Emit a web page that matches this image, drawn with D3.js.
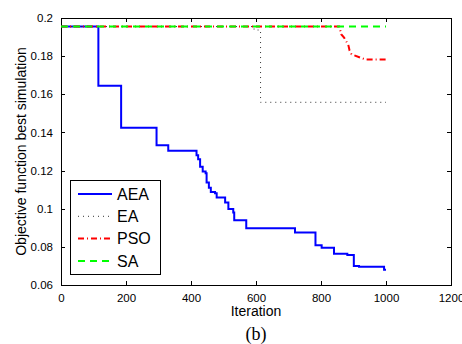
<!DOCTYPE html>
<html>
<head>
<meta charset="utf-8">
<script src="https://cdn.jsdelivr.net/npm/d3@7"></script>
<style>
  html, body { margin: 0; padding: 0; background: #fff; }
  svg { display: block; font-family: "Liberation Sans", Arial, sans-serif; }
</style>
</head>
<body>
<div id="plot"></div>
<script>
// --- data (iteration, objective value) ---
const aeaIter = [0, 115, 185, 294, 330, 417, 422, 428, 436, 445, 448, 455, 461, 474, 479, 505, 515, 530, 533, 570, 720, 783, 802, 840, 881, 901, 917, 994, 1000];
const aeaVal  = [0.1955, 0.1645, 0.1425, 0.1333, 0.1304, 0.128, 0.126, 0.122, 0.1195, 0.1186, 0.1137, 0.111, 0.1088, 0.1081, 0.1059, 0.1033, 0.0998, 0.098, 0.094, 0.0898, 0.0875, 0.0809, 0.0795, 0.0764, 0.0757, 0.0700, 0.0696, 0.068, 0.068];

const eaIter = [0, 594, 614, 1000];
const eaVal  = [0.1955, 0.1937, 0.1558, 0.1558];

const psoIter = [0, 856, 858, 862, 871, 884, 888, 894, 920, 938, 1000];
const psoVal  = [0.1955, 0.1955, 0.1946, 0.1915, 0.1897, 0.1859, 0.1829, 0.181, 0.1793, 0.1782, 0.1782];

const saIter = [0, 1000];
const saVal  = [0.1955, 0.1955];

const xTicks = [0, 200, 400, 600, 800, 1000, 1200];
const yTicks = [0.06, 0.08, 0.1, 0.12, 0.14, 0.16, 0.18, 0.2];
const seriesNames = ["AEA", "EA", "PSO", "SA"];

// --- layout ---
const width = 462, height = 344;
const plot = { left: 61, right: 451, top: 18, bottom: 285 };

const svg = d3.select("#plot").append("svg").attr("width", width).attr("height", height);

const x = d3.scaleLinear().domain([0, 1200]).range([plot.left, plot.right]);
const y = d3.scaleLinear().domain([0.06, 0.2]).range([plot.bottom, plot.top]);

// line styles (matlab-ish)
const styles = {
  AEA: { color: "#0000ff", width: 2, dash: null, curve: d3.curveStepAfter },
  EA:  { color: "#333333", width: 1, dash: "1,4", curve: d3.curveStepAfter },
  PSO: { color: "#ff0000", width: 2, dash: "6,3,1,3", curve: d3.curveLinear },
  SA:  { color: "#00ff00", width: 2, dash: "7,5", curve: d3.curveLinear }
};
const seriesData = {
  AEA: d3.zip(aeaIter, aeaVal),
  EA:  d3.zip(eaIter, eaVal),
  PSO: d3.zip(psoIter, psoVal),
  SA:  d3.zip(saIter, saVal)
};

// plot box
svg.append("rect")
  .attr("x", plot.left).attr("y", plot.top)
  .attr("width", plot.right - plot.left).attr("height", plot.bottom - plot.top)
  .attr("fill", "none").attr("stroke", "#000").attr("stroke-width", 1)
  .attr("shape-rendering", "crispEdges");

// series
for (const name of seriesNames) {
  const st = styles[name];
  const line = d3.line().x(d => x(d[0])).y(d => y(d[1])).curve(st.curve);
  svg.append("path")
    .datum(seriesData[name])
    .attr("d", line)
    .attr("fill", "none")
    .attr("stroke", st.color)
    .attr("stroke-width", st.width)
    .attr("stroke-dasharray", st.dash);
}

// axes: ticks inward on all four sides
const tickLen = 4;
const xBottom = d3.axisBottom(x).tickValues(xTicks).tickSizeInner(-tickLen).tickSizeOuter(0).tickPadding(9).tickFormat(d3.format("d"));
const xTop = d3.axisTop(x).tickValues(xTicks).tickSizeInner(-tickLen).tickSizeOuter(0).tickFormat("");
const yLeft = d3.axisLeft(y).tickValues(yTicks).tickSizeInner(-tickLen).tickSizeOuter(0).tickPadding(8).tickFormat(d => d3.format("")(+d.toFixed(2)));
const yRight = d3.axisRight(y).tickValues(yTicks).tickSizeInner(-tickLen).tickSizeOuter(0).tickFormat("");

function styleAxis(g) {
  g.select(".domain").remove();
  g.selectAll(".tick line").attr("stroke", "#000").attr("shape-rendering", "crispEdges");
  g.selectAll(".tick text").attr("fill", "#000").attr("font-size", 11.5).attr("font-family", "Liberation Sans, Arial, sans-serif");
}
svg.append("g").attr("transform", `translate(0,${plot.bottom})`).call(xBottom).call(styleAxis);
svg.append("g").attr("transform", `translate(0,${plot.top})`).call(xTop).call(styleAxis);
svg.append("g").attr("transform", `translate(${plot.left},0)`).call(yLeft).call(styleAxis);
svg.append("g").attr("transform", `translate(${plot.right},0)`).call(yRight).call(styleAxis);

// axis titles
svg.append("text")
  .attr("x", (plot.left + plot.right) / 2).attr("y", 316)
  .attr("text-anchor", "middle").attr("font-size", 14)
  .text("Iteration");
svg.append("text")
  .attr("transform", `translate(26,${(plot.top + plot.bottom) / 2}) rotate(-90)`)
  .attr("text-anchor", "middle").attr("font-size", 14)
  .text("Objective function best simulation");

// panel caption
svg.append("text")
  .attr("x", (plot.left + plot.right) / 2).attr("y", 340)
  .attr("text-anchor", "middle").attr("font-size", 18)
  .attr("font-family", "Liberation Serif, Times New Roman, serif")
  .text("(b)");

// legend
const leg = svg.append("g");
leg.append("rect")
  .attr("x", 70).attr("y", 180).attr("width", 90).attr("height", 94)
  .attr("fill", "#fff").attr("stroke", "#000").attr("stroke-width", 1)
  .attr("shape-rendering", "crispEdges");
seriesNames.forEach((name, i) => {
  const st = styles[name];
  const cy = 194 + i * 22.3;
  leg.append("line")
    .attr("x1", 78).attr("x2", 112).attr("y1", cy).attr("y2", cy)
    .attr("stroke", st.color).attr("stroke-width", st.width)
    .attr("stroke-dasharray", st.dash);
  leg.append("text")
    .attr("x", 117).attr("y", cy).attr("dy", "0.36em")
    .attr("font-size", 16)
    .text(name);
});
</script>
</body>
</html>
